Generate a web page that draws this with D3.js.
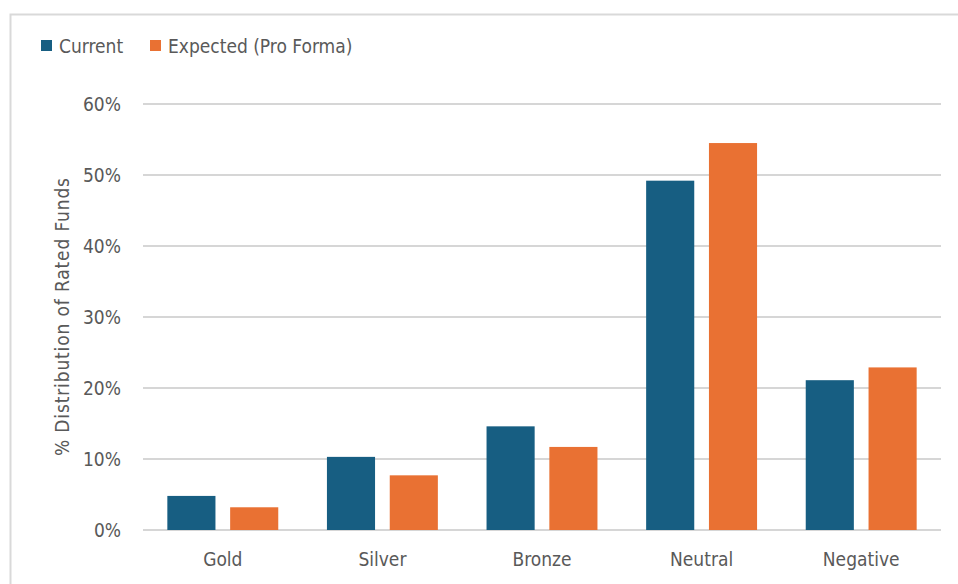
<!DOCTYPE html>
<html>
<head>
<meta charset="utf-8">
<script src="https://cdn.jsdelivr.net/npm/d3@7"></script>
<style>
  body { margin: 0; background: #fff; }
  text { font-family: "Liberation Sans Narrow", "DejaVu Sans Condensed", sans-serif; fill: #595959; }
</style>
</head>
<body>
<div id="chart"></div>
<script>
const categories = ['Gold', 'Silver', 'Bronze', 'Neutral', 'Negative'];
const seriesNames = ['Current', 'Expected (Pro Forma)'];
const current = [4.8, 10.3, 14.6, 49.2, 21.1];
const expected = [3.2, 7.7, 11.7, 54.5, 22.9];
const yTicks = [0, 10, 20, 30, 40, 50, 60];
const colors = ['#175e82', '#e97133'];

const width = 958, height = 584;
const margin = { top: 104, right: 17, bottom: 54, left: 143 };
const plotW = width - margin.left - margin.right;
const plotH = height - margin.top - margin.bottom;

const svg = d3.select('#chart').append('svg')
  .attr('width', width)
  .attr('height', height);

// outer frame
svg.append('rect')
  .attr('x', 10.5).attr('y', 14.5)
  .attr('width', 960).attr('height', 600)
  .attr('fill', 'none')
  .attr('stroke', '#d9d9d9')
  .attr('stroke-width', 2);

const g = svg.append('g').attr('transform', `translate(${margin.left},${margin.top})`);

const x0 = d3.scaleBand().domain(categories).range([0, plotW])
  .paddingInner(0.305).paddingOuter(0.1525);
const x1 = d3.scaleBand().domain(seriesNames).range([0, x0.bandwidth()])
  .paddingInner(0.234);
const y = d3.scaleLinear().domain([0, 60]).range([plotH, 0]);

// gridlines
g.selectAll('line.grid')
  .data(yTicks)
  .enter().append('line')
  .attr('class', 'grid')
  .attr('x1', 0).attr('x2', plotW)
  .attr('y1', d => y(d)).attr('y2', d => y(d))
  .attr('stroke', '#d6d6d6')
  .attr('stroke-width', 2);

// y axis labels
const yAxis = d3.axisLeft(y).tickValues(yTicks).tickFormat(d => d + '%').tickSize(0).tickPadding(22);
const ya = g.append('g').call(yAxis);
ya.select('.domain').remove();
ya.selectAll('text').attr('font-size', 19).style('fill', '#595959')
  .style('font-family', '"Liberation Sans Narrow", "DejaVu Sans Condensed", sans-serif');

// bars
const rows = categories.map((c, i) => ({ cat: c, vals: [current[i], expected[i]] }));
const grp = g.selectAll('g.cat')
  .data(rows)
  .enter().append('g')
  .attr('class', 'cat')
  .attr('transform', d => `translate(${x0(d.cat)},0)`);

grp.selectAll('rect')
  .data(d => d.vals.map((v, j) => ({ key: seriesNames[j], v: v, j: j })))
  .enter().append('rect')
  .attr('x', d => x1(d.key))
  .attr('width', x1.bandwidth())
  .attr('y', d => y(d.v))
  .attr('height', d => plotH - y(d.v))
  .attr('fill', d => colors[d.j]);

// x axis labels
const xAxis = d3.axisBottom(d3.scaleBand().domain(categories).range([0, plotW]))
  .tickSize(0).tickPadding(23);
const xa = g.append('g').attr('transform', `translate(0,${plotH})`).call(xAxis);
xa.select('.domain').remove();
xa.selectAll('text').attr('font-size', 19).style('fill', '#595959')
  .style('font-family', '"Liberation Sans Narrow", "DejaVu Sans Condensed", sans-serif');

// y axis title
svg.append('text')
  .attr('transform', `translate(69,${margin.top + plotH / 2}) rotate(-90)`)
  .attr('text-anchor', 'middle')
  .attr('font-size', 19)
  .attr('textLength', 278)
  .text('% Distribution of Rated Funds');

// legend
const legend = svg.append('g');
const legX = [41, 150];
seriesNames.forEach((s, i) => {
  legend.append('rect')
    .attr('x', legX[i]).attr('y', 40)
    .attr('width', 11).attr('height', 11)
    .attr('fill', colors[i]);
  legend.append('text')
    .attr('x', legX[i] + 18).attr('y', 52.5)
    .attr('font-size', 19)
    .text(s);
});
</script>
</body>
</html>
